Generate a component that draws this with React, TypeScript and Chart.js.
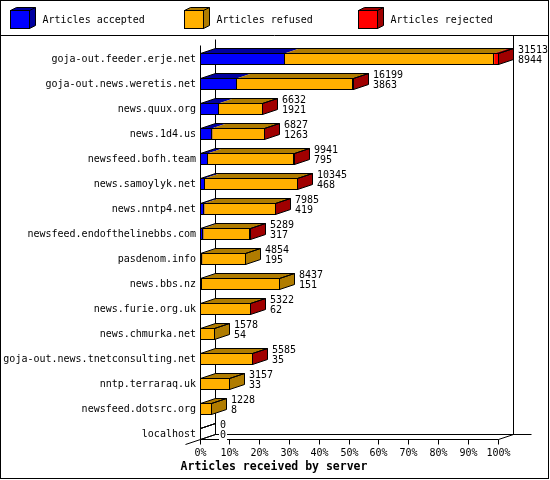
import React, { useEffect, useRef } from "react";
import { Chart, registerables } from "chart.js";

Chart.register(...registerables);

const categories = [
  "goja-out.feeder.erje.net",
  "goja-out.news.weretis.net",
  "news.quux.org",
  "news.1d4.us",
  "newsfeed.bofh.team",
  "news.samoylyk.net",
  "news.nntp4.net",
  "newsfeed.endofthelinebbs.com",
  "pasdenom.info",
  "news.bbs.nz",
  "news.furie.org.uk",
  "news.chmurka.net",
  "goja-out.news.tnetconsulting.net",
  "nntp.terraraq.uk",
  "newsfeed.dotsrc.org",
  "localhost",
];
const received = [31513, 16199, 6632, 6827, 9941, 10345, 7985, 5289, 4854, 8437, 5322, 1578, 5585, 3157, 1228, 0];
const accepted = [8944, 3863, 1921, 1263, 795, 468, 419, 317, 195, 151, 62, 54, 35, 33, 8, 0];
const refused = [22145, 12276, 4671, 5519, 9111, 9847, 7536, 4947, 4659, 8286, 5245, 1524, 5538, 3124, 1220, 0];
const rejected = [424, 60, 40, 45, 35, 30, 30, 25, 0, 0, 15, 0, 12, 0, 0, 0];
const seriesLabels = ["Articles accepted", "Articles refused", "Articles rejected"];
const percentTicks = [0, 10, 20, 30, 40, 50, 60, 70, 80, 90, 100];
const axisTitle = "Articles received by server";
const axisMax = 31513;

const FRONT = ["#0000ff", "#ffb000", "#ff0000"];
const DARK = ["#0000a0", "#b07c00", "#a00000"];
const MONO = "'DejaVu Sans Mono', monospace";
const BAR_H = 11;
const DX = 15;
const DY = 5;

const px = (v: number) => Math.floor(v) + 0.5;

function poly(ctx: CanvasRenderingContext2D, pts: number[][]) {
  ctx.beginPath();
  ctx.moveTo(pts[0][0], pts[0][1]);
  for (let k = 1; k < pts.length; k++) ctx.lineTo(pts[k][0], pts[k][1]);
  ctx.closePath();
}

function line(ctx: CanvasRenderingContext2D, x1: number, y1: number, x2: number, y2: number) {
  ctx.beginPath();
  ctx.moveTo(x1, y1);
  ctx.lineTo(x2, y2);
  ctx.stroke();
}

const threeD = {
  id: "threeD",
  beforeDraw(chart: any) {
    const ctx = chart.ctx as CanvasRenderingContext2D;
    ctx.save();
    ctx.fillStyle = "#ffffff";
    ctx.fillRect(0, 0, chart.width, chart.height);
    ctx.restore();
  },
  beforeDatasetsDraw(chart: any) {
    const ctx = chart.ctx as CanvasRenderingContext2D;
    const xs = chart.scales.x;
    const ys = chart.scales.y;
    const L = px(xs.getPixelForValue(0));
    const R = px(xs.getPixelForValue(axisMax));
    const floorFront = px(ys.getPixelForValue(categories.length - 1) + BAR_H / 2);
    const floorBack = floorFront - DY;
    const frontTop = px(ys.getPixelForValue(0) - 14);
    ctx.save();
    ctx.strokeStyle = "#000";
    ctx.lineWidth = 1;
    line(ctx, L + DX, frontTop - 6, L + DX, floorBack);
    line(ctx, R + DX, 36, R + DX, floorBack);
    line(ctx, L + DX, floorBack, R + DX + 18, floorBack);
    line(ctx, L - 15, floorFront + 5, L + DX, floorBack);
    line(ctx, R, floorFront, R + DX, floorBack);
    line(ctx, L, frontTop, L, floorFront);
    line(ctx, L, floorFront, R, floorFront);
    ctx.fillStyle = "#000";
    ctx.font = `10px ${MONO}`;
    ctx.textAlign = "center";
    ctx.textBaseline = "middle";
    percentTicks.forEach((p) => {
      const x = px(xs.getPixelForValue((axisMax * p) / 100));
      line(ctx, x, floorFront, x, floorFront + 5);
      ctx.fillText(p + "%", x, floorFront + 14);
    });
    ctx.font = `bold 11.5px ${MONO}`;
    ctx.fillText(axisTitle, 274, floorFront + 28);
    ctx.restore();
  },
  afterDatasetsDraw(chart: any) {
    const ctx = chart.ctx as CanvasRenderingContext2D;
    const metas = [0, 1, 2].map((d) => chart.getDatasetMeta(d));
    const values = [accepted, refused, rejected];
    ctx.save();
    ctx.lineWidth = 1;
    categories.forEach((_, i) => {
      const bars = metas.map((m: any) => m.data[i]);
      const cy = bars[0].y;
      const T = Math.floor(cy - BAR_H / 2) + 0.5;
      const B = Math.floor(cy + BAR_H / 2) + 0.5;
      const L = px(bars[0].base);
      let E = L;
      let last = -1;
      const segs: number[][] = [];
      bars.forEach((b: any, d: number) => {
        if (values[d][i] > 0) {
          const s = px(b.base);
          const e = px(b.x);
          segs.push([s, e, d]);
          E = e;
          last = d;
        }
      });
      segs.forEach(([s, e, d]) => {
        ctx.fillStyle = DARK[d];
        poly(ctx, [[s, T], [s + DX, T - DY], [e + DX, T - DY], [e, T]]);
        ctx.fill();
      });
      if (last >= 0) {
        ctx.fillStyle = DARK[last];
        poly(ctx, [[E, T], [E + DX, T - DY], [E + DX, B - DY], [E, B]]);
        ctx.fill();
      }
      ctx.strokeStyle = "#000";
      segs.forEach(([s, e]) => {
        ctx.strokeRect(s, T, e - s, B - T);
      });
      poly(ctx, [[L, T], [L + DX, T - DY], [E + DX, T - DY], [E, T]]);
      ctx.stroke();
      poly(ctx, [[E, T], [E + DX, T - DY], [E + DX, B - DY], [E, B]]);
      ctx.stroke();
      ctx.font = `10px ${MONO}`;
      ctx.textAlign = "left";
      ctx.textBaseline = "middle";
      const tx = E + DX + 4.5;
      [[String(received[i]), cy - 8.5], [String(accepted[i]), cy + 1.5]].forEach(([t, y]: any) => {
        const w = ctx.measureText(t).width;
        ctx.fillStyle = "#fff";
        ctx.fillRect(tx - 1, y - 4.5, w + 2, 9);
        ctx.fillStyle = "#000";
        ctx.fillText(t, tx, y);
      });
    });
    ctx.restore();
  },
  afterDraw(chart: any) {
    const ctx = chart.ctx as CanvasRenderingContext2D;
    ctx.save();
    ctx.strokeStyle = "#000";
    ctx.lineWidth = 1;
    ctx.strokeRect(0.5, 0.5, 548, 478);
    line(ctx, 0, 35.5, 549, 35.5);
    const boxX = [10, 184, 358];
    seriesLabels.forEach((lab, d) => {
      const x0 = boxX[d] + 0.5;
      const x1 = x0 + 19;
      const y0 = 10.5;
      const y1 = 28.5;
      const dx = 6;
      const dy = 3;
      ctx.fillStyle = DARK[d];
      poly(ctx, [[x0, y0], [x0 + dx, y0 - dy], [x1 + dx, y0 - dy], [x1 + dx, y1 - dy], [x1, y1], [x1, y0]]);
      ctx.fill();
      ctx.stroke();
      ctx.fillStyle = FRONT[d];
      ctx.fillRect(x0, y0, x1 - x0, y1 - y0);
      ctx.strokeRect(x0, y0, x1 - x0, y1 - y0);
      line(ctx, x1, y0, x1 + dx, y0 - dy);
      ctx.fillStyle = "#000";
      ctx.font = `10px ${MONO}`;
      ctx.textAlign = "left";
      ctx.textBaseline = "middle";
      ctx.fillText(lab, boxX[d] + 32.5, 20.5);
    });
    ctx.restore();
  },
};

export default function App() {
  const ref = useRef<HTMLCanvasElement>(null);
  useEffect(() => {
    document.body.style.margin = "0";
    const chart = new Chart(ref.current as HTMLCanvasElement, {
      type: "bar",
      data: {
        labels: categories,
        datasets: [
          { label: seriesLabels[0], data: accepted, backgroundColor: FRONT[0] },
          { label: seriesLabels[1], data: refused, backgroundColor: FRONT[1] },
          { label: seriesLabels[2], data: rejected, backgroundColor: FRONT[2] },
        ],
      },
      options: {
        indexAxis: "y",
        responsive: false,
        animation: false,
        devicePixelRatio: 1,
        layout: { padding: { left: 0, right: 52, top: 46.5, bottom: 33.5 } },
        datasets: { bar: { barThickness: BAR_H, borderWidth: 0 } },
        plugins: { legend: { display: false }, tooltip: { enabled: false } },
        scales: {
          x: { stacked: true, display: false, min: 0, max: axisMax },
          y: {
            stacked: true,
            grid: { display: false, drawTicks: false },
            border: { display: false },
            ticks: {
              autoSkip: false,
              padding: 4,
              color: "#000",
              font: { family: MONO, size: 10 },
            },
            afterFit: (s: any) => {
              s.width = 200;
            },
          },
        },
      } as any,
      plugins: [threeD],
    });
    return () => chart.destroy();
  }, []);
  return (
    <div style={{ position: "absolute", left: 0, top: 0, width: 550, height: 480 }}>
      <canvas ref={ref} width={550} height={480} />
    </div>
  );
}
